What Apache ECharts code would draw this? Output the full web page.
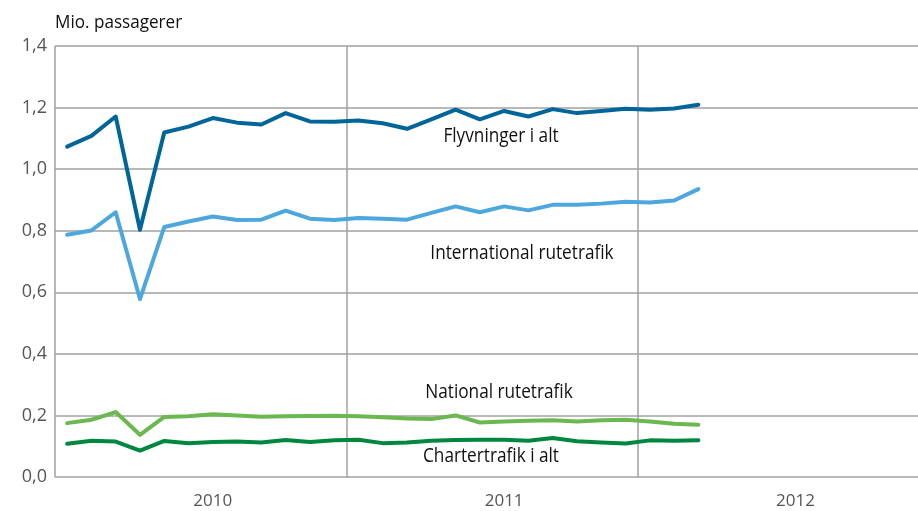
<!DOCTYPE html>
<html>
<head>
<meta charset="utf-8">
<script src="https://cdn.jsdelivr.net/npm/echarts@6/dist/echarts.min.js"></script>
<style>
  html, body { margin: 0; padding: 0; background: #fff; }
  #chart { width: 918px; height: 511px; }
</style>
</head>
<body>
<div id="chart"></div>
<script>
var FONT = '"Open Sans", sans-serif';

// months Jan 2010 - Dec 2012 (data up to Mar 2012)
var years = ['2010', '2011', '2012'];
var months = [];
years.forEach(function (y) {
    for (var m = 1; m <= 12; m++) months.push(y + '-' + (m < 10 ? '0' + m : m));
});

var flyvninger = [1.073, 1.108, 1.171, 0.803, 1.119, 1.138, 1.166, 1.151, 1.145, 1.182, 1.155, 1.154,
    1.158, 1.149, 1.131, 1.162, 1.193, 1.162, 1.189, 1.171, 1.195, 1.182, 1.189, 1.196,
    1.193, 1.197, 1.209];
var international = [0.787, 0.801, 0.860, 0.578, 0.812, 0.830, 0.846, 0.835, 0.836, 0.865, 0.839, 0.835,
    0.841, 0.839, 0.836, 0.858, 0.879, 0.860, 0.879, 0.866, 0.884, 0.884, 0.888, 0.894,
    0.892, 0.898, 0.935];
var national = [0.175, 0.186, 0.211, 0.137, 0.195, 0.197, 0.204, 0.200, 0.196, 0.197, 0.198, 0.199,
    0.197, 0.194, 0.190, 0.188, 0.200, 0.177, 0.180, 0.183, 0.184, 0.180, 0.184, 0.186,
    0.180, 0.173, 0.170];
var charter = [0.108, 0.118, 0.115, 0.086, 0.117, 0.110, 0.114, 0.115, 0.112, 0.120, 0.114, 0.119,
    0.121, 0.110, 0.112, 0.118, 0.120, 0.121, 0.121, 0.118, 0.127, 0.116, 0.112, 0.109,
    0.119, 0.118, 0.119];

var gridColor = '#a0a0a0';

var myChart = echarts.init(document.getElementById('chart'));

function line(name, data, color) {
    return {
        name: name,
        type: 'line',
        data: data,
        symbol: 'none',
        lineStyle: { color: color, width: 4, cap: 'round', join: 'round' },
        itemStyle: { color: color },
        silent: true
    };
}

// condensed-looking text label
function note(text, x, y) {
    return {
        type: 'text', x: x, y: y, scaleX: 0.86,
        style: { text: text, fontFamily: FONT, fontSize: 20, fill: '#111', align: 'center', verticalAlign: 'middle' }
    };
}

var option = {
    animation: false,
    // plot runs a little past the right edge (2012 band is cut off)
    grid: { left: 55, top: 46, right: -11, bottom: 34, outerBoundsMode: 'none', containLabel: false },
    xAxis: {
        type: 'category',
        data: months,
        boundaryGap: true,
        axisLine: { show: false },
        axisTick: { show: false },
        axisLabel: {
            interval: function (i) { return i % 12 === 6; },
            formatter: function (v) { return v.slice(0, 4); },
            color: '#555',
            fontFamily: FONT,
            fontSize: 17,
            margin: 16
        },
        splitLine: {
            show: true,
            interval: function (i) { return i % 12 === 0; },
            lineStyle: { color: gridColor, width: 1.5 }
        }
    },
    yAxis: {
        type: 'value',
        min: 0,
        max: 1.4,
        interval: 0.2,
        axisLine: { show: false },
        axisTick: { show: false },
        axisLabel: {
            formatter: function (v) { return v.toFixed(1).replace('.', ','); },
            color: '#555',
            fontFamily: FONT,
            fontSize: 18,
            margin: 8
        },
        splitLine: { lineStyle: { color: gridColor, width: 1.5 } }
    },
    series: [
        line('Flyvninger i alt', flyvninger, '#00669a'),
        line('International rutetrafik', international, '#4ca7df'),
        line('National rutetrafik', national, '#6cb850'),
        line('Chartertrafik i alt', charter, '#00873f')
    ],
    graphic: [
        {
            type: 'text', x: 55, y: 23, scaleX: 0.9,
            style: { text: 'Mio. passagerer', fontFamily: FONT, fontSize: 19, fill: '#111', verticalAlign: 'middle' }
        },
        note('Flyvninger i alt', 501, 136),
        note('International rutetrafik', 522, 253),
        note('National rutetrafik', 499, 392),
        note('Chartertrafik i alt', 491, 456)
    ]
};

myChart.setOption(option);
</script>
</body>
</html>
